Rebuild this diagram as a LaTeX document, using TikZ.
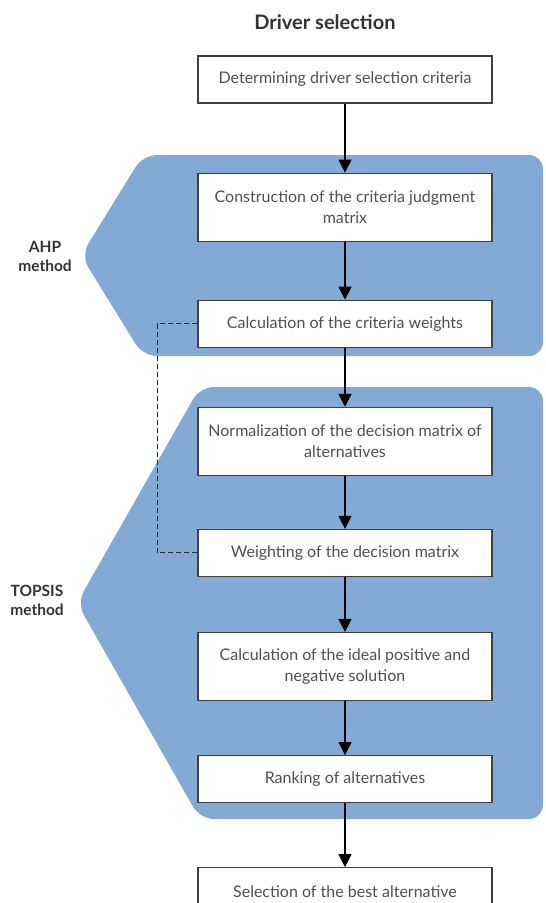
\documentclass[tikz,border=0pt]{standalone}
\usepackage{fontspec}
\setmainfont{Lato}
\usepackage{tikz}
\usetikzlibrary{arrows.meta,positioning,calc}
\usepackage{xcolor}
\definecolor{bandblue}{RGB}{131,170,213}
\definecolor{txtgray}{RGB}{80,80,80}
\definecolor{lblgray}{RGB}{51,51,51}

\begin{document}
\begin{tikzpicture}[
    x=1pt, y=1pt,
    font=\fontsize{16}{21}\selectfont,
    box/.style={draw=black!75, line width=1.1pt, fill=white, text=txtgray, minimum width=294pt, minimum height=47pt, align=center, inner sep=2pt},
    tall/.style={box, minimum height=68pt},
    band/.style={fill=bandblue, rounded corners=14pt},
    lbl/.style={text=lblgray, font=\fontsize{15.5}{19}\selectfont\bfseries, align=center},
    arr/.style={-{Triangle[length=13pt,width=13pt]}, line width=1.3pt},
    link/.style={dashed, dash pattern=on 5pt off 3pt, line width=1pt, black!85}
  ]
    \useasboundingbox (0,0) rectangle (546,-903);
    % method bands
    \fill[band] (143,-155) -- (543,-155) -- (543,-356) -- (143,-356) -- (81,-255.5) -- cycle;
    \fill[band] (200,-387) -- (543,-387) -- (543,-819) -- (200,-819) -- (77,-603) -- cycle;
    \node[lbl] (ahp) at (45,-256) {AHP\\method};
    \node[lbl] (topsis) at (37,-600) {TOPSIS\\method};

    \node[text=lblgray, font=\fontsize{20}{24}\selectfont\bfseries] (ttl) at (325,-22) {Driver selection};
    \node[box] (crit) at (345,-79.5) {Determining driver selection criteria};
    \node[tall, below=69pt of crit] (judg) {Construction of the criteria judgment\\matrix};
    \node[box, below=58pt of judg] (wts) {Calculation of the criteria weights};
    \node[tall, below=59pt of wts] (norm) {Normalization of the decision matrix of\\alternatives};
    \node[box, below=53pt of norm] (wgt) {Weighting of the decision matrix};
    \node[tall, below=55pt of wgt] (ideal) {Calculation of the ideal positive and\\negative solution};
    \node[box, below=54pt of ideal] (rank) {Ranking of alternatives};
    \node[box, below=64pt of rank] (best) {Selection of the best alternative};

    \draw[arr] (crit) -- (judg);
    \draw[arr] (judg) -- (wts);
    \draw[arr] (wts) -- (norm);
    \draw[arr] (norm) -- (wgt);
    \draw[arr] (wgt) -- (ideal);
    \draw[arr] (ideal) -- (rank);
    \draw[arr] (rank) -- (best);
    \draw[link] (wts.west) -- ++(-40,0) |- (wgt.west);
  \end{tikzpicture}
\end{document}
